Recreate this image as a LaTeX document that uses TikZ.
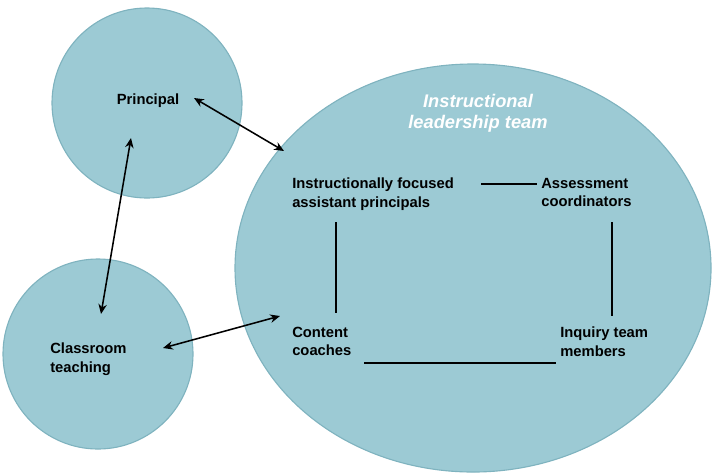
\documentclass[tikz,border=0pt]{standalone}
\usepackage{fontspec}
\setmainfont{Liberation Sans}
\usetikzlibrary{positioning,arrows.meta}
\definecolor{teal}{HTML}{9CCAD4}
\definecolor{tealedge}{HTML}{7FB3BF}
\begin{document}
\begin{tikzpicture}[x=0.025cm,y=-0.025cm,font=\bfseries\fontsize{10.5}{13}\selectfont,
  blob/.style={fill=teal, draw=tealedge, line width=0.8pt},
  role/.style={align=left, anchor=north west, inner sep=0pt},
  link/.style={line width=1.1pt},
  dbl/.style={line width=1.1pt, {Stealth[length=7pt,width=6pt]}-{Stealth[length=7pt,width=6pt]}}]

  % --- page frame ---
  \useasboundingbox (0,0) rectangle (720,475);

  % --- the three bubbles ---
  \draw[blob] (147,103) circle[radius=95];
  \draw[blob] (98,354) circle[radius=95];
  \draw[blob] (473,268) ellipse[x radius=238, y radius=204];

  % --- bubble labels ---
  \node (principal) at (148,101) {Principal};
  \node[role] (classroom) at (50,343) {Classroom\\teaching};
  \node[white, align=center, font=\bfseries\itshape\fontsize{13}{15}\selectfont] (ilt) at (478,113) {Instructional\\leadership team};

  % --- team members ---
  \node[role] (asst) at (292,178) {Instructionally focused\\assistant principals};
  \node[role] (assess) at (541,178) {Assessment\\coordinators};
  \node[role] (coach) at (292,327) {Content\\coaches};
  \node[role] (inquiry) at (560,327) {Inquiry team\\members};

  % --- links inside the team ---
  \coordinate (a1) at (481,184);
  \coordinate (a2) at (537,184);
  \draw[link] (a1) -- (a2);
  \coordinate (v1) at (336,222);
  \coordinate (v2) at (336,313);
  \draw[link] (v1) -- (v2);
  \coordinate (w1) at (612,222);
  \coordinate (w2) at (612,316);
  \draw[link] (w1) -- (w2);
  \coordinate (h1) at (364,363);
  \coordinate (h2) at (556,363);
  \draw[link] (h1) -- (h2);

  % --- two-way arrows ---
  \coordinate (p1) at (194,98);
  \coordinate (t1) at (284,151);
  \draw[dbl] (p1) -- (t1);
  \coordinate (p2) at (131,138);
  \coordinate (c2) at (101,314);
  \draw[dbl] (p2) -- (c2);
  \coordinate (c3) at (163,348);
  \coordinate (t3) at (280,316);
  \draw[dbl] (c3) -- (t3);
\end{tikzpicture}
\end{document}
